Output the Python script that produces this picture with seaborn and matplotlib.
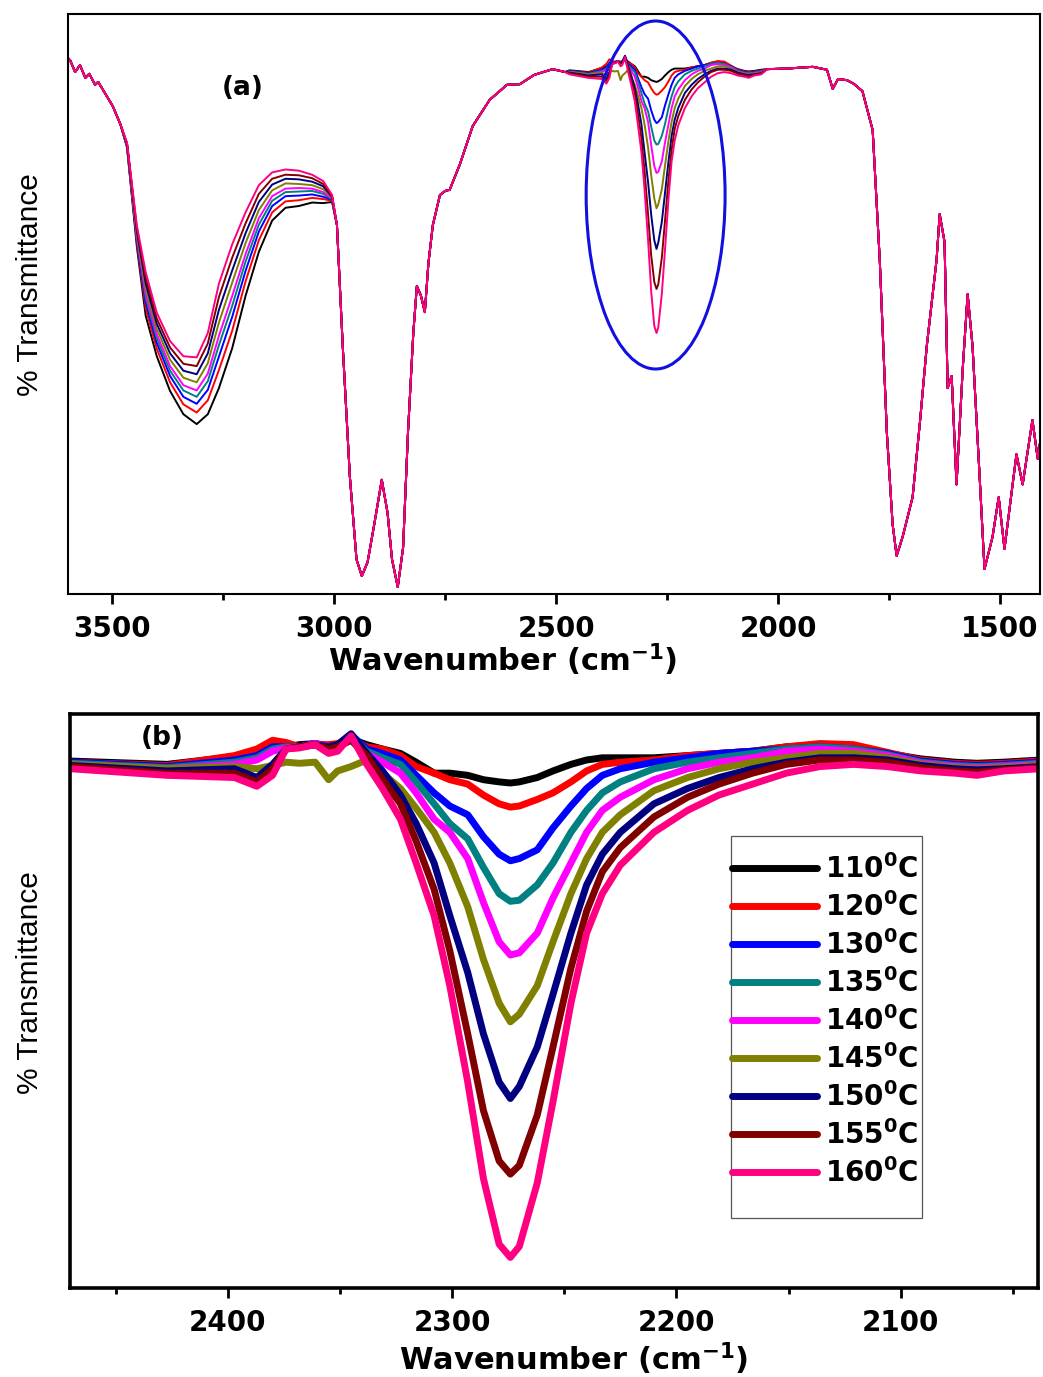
import numpy as np
import pandas as pd
import matplotlib
matplotlib.use("Agg")
import matplotlib.pyplot as plt
import seaborn as sns
from matplotlib.patches import Ellipse, Rectangle
from matplotlib.lines import Line2D
from matplotlib import font_manager

# ---------------- data ----------------
temps = ["110", "120", "130", "135", "140", "145", "150", "155", "160"]
colors = ["#000000", "#ff0000", "#0000ff", "#008080", "#ff00ff",
          "#808000", "#000080", "#800000", "#ff0080"]

# common start (3600-3480 cm-1)
wn_start = [3600, 3595, 3584, 3573, 3561, 3552, 3539, 3532, 3499, 3482]
t_start = [92.4, 92.0, 90.0, 91.2, 89.0, 89.7, 87.8, 88.3, 84.1, 81.0]

# O-H / N-H band, differs per temperature
wn_oh = [3467, 3445, 3425, 3400, 3370, 3340, 3310, 3285, 3260, 3230,
         3200, 3170, 3140, 3110, 3080, 3050, 3025, 3005]
oh_110 = [77.0, 60.0, 48.0, 41.0, 35.0, 31.0, 29.3, 31.0, 35.5, 42.4, 51.4, 59.0, 64.4, 66.6, 66.9, 67.5, 67.4, 67.6]
oh_120 = [77.1, 60.6, 49.3, 42.3, 36.5, 32.7, 31.3, 33.4, 38.6, 45.4, 53.9, 61.0, 65.8, 67.7, 67.9, 68.3, 68.1, 67.8]
oh_130 = [77.2, 61.1, 50.3, 43.3, 37.6, 34.0, 32.8, 35.2, 40.9, 47.8, 55.7, 62.5, 66.9, 68.6, 68.7, 68.9, 68.5, 68.0]
oh_135 = [77.3, 61.5, 51.1, 44.1, 38.5, 35.1, 34.0, 36.7, 42.9, 49.7, 57.3, 63.7, 67.8, 69.3, 69.4, 69.5, 69.0, 68.1]
oh_140 = [77.4, 61.8, 51.8, 44.8, 39.3, 36.0, 35.1, 38.0, 44.5, 51.4, 58.6, 64.8, 68.6, 69.9, 70.0, 69.9, 69.3, 68.2]
oh_145 = [77.5, 62.3, 52.7, 45.7, 40.4, 37.3, 36.5, 39.8, 46.8, 53.7, 60.5, 66.2, 69.6, 70.8, 70.7, 70.5, 69.8, 68.4]
oh_150 = [77.6, 62.7, 53.6, 46.6, 41.5, 38.5, 37.9, 41.5, 49.0, 55.8, 62.2, 67.6, 70.6, 71.6, 71.5, 71.1, 70.3, 68.5]
oh_155 = [77.7, 63.1, 54.5, 47.5, 42.5, 39.7, 39.3, 43.2, 51.2, 58.0, 63.9, 69.0, 71.6, 72.3, 72.2, 71.7, 70.7, 68.6]
oh_160 = [77.8, 63.6, 55.5, 48.5, 43.6, 41.0, 40.8, 45.0, 53.5, 60.3, 65.8, 70.5, 72.7, 73.2, 73.0, 72.3, 71.2, 68.8]

# C-H region (common)
wn_ch = [2994, 2981, 2965, 2950, 2938, 2925, 2910, 2893, 2880, 2870,
         2857, 2845, 2834, 2822, 2814, 2805, 2796, 2788, 2778, 2762,
         2750, 2740, 2717, 2688, 2650, 2611, 2582, 2550, 2508, 2480]
t_ch = [63.6, 42.8, 20.3, 6.0, 3.1, 5.5, 12.0, 19.7, 14.0, 6.0,
        1.2, 8.0, 27.8, 45.0, 53.1, 51.5, 48.6, 57.0, 63.6, 68.8,
        69.5, 69.7, 74.1, 80.7, 85.2, 87.8, 87.9, 89.5, 90.5, 90.0]

# N=C=O band region, differs per temperature
wn_nco = [2470, 2427, 2397, 2387, 2380, 2374, 2368, 2361, 2355, 2351,
          2345, 2338, 2331, 2323, 2316, 2308, 2301, 2293, 2286, 2279,
          2274, 2270, 2262, 2255, 2247, 2240, 2233, 2225, 2210, 2195,
          2181, 2166, 2151, 2136, 2121, 2106, 2091, 2076, 2066, 2054, 2038]
nco_110 = [90.3, 90.0, 90.7, 91.0, 91.4, 91.6, 91.8, 91.9, 91.7, 91.8, 92.3, 91.8, 91.4, 91.0, 90.2, 89.2, 89.2, 89.0, 88.6, 88.4, 88.3, 88.4, 88.8, 89.4, 90.0, 90.4, 90.6, 90.6, 90.6, 90.8, 91.0, 91.2, 91.6, 91.8, 91.6, 91.0, 90.5, 90.2, 90.1, 90.2, 90.4]
nco_120 = [90.2, 89.9, 90.8, 91.4, 92.2, 92.0, 91.6, 91.8, 91.8, 91.9, 92.3, 91.6, 91.4, 90.8, 89.8, 89.2, 88.6, 88.2, 87.2, 86.4, 86.1, 86.2, 86.8, 87.4, 88.4, 89.4, 90.0, 90.2, 90.4, 90.8, 91.0, 91.2, 91.6, 91.9, 91.8, 91.1, 90.4, 90.1, 90.0, 90.1, 90.3]
nco_130 = [90.2, 89.8, 90.4, 90.8, 91.6, 91.6, 91.6, 91.9, 91.6, 91.8, 92.7, 91.4, 91.0, 90.4, 89.0, 87.4, 86.2, 85.4, 83.4, 81.8, 81.2, 81.4, 82.2, 84.2, 86.2, 87.8, 89.0, 89.6, 90.2, 90.6, 91.0, 91.2, 91.4, 91.6, 91.4, 91.0, 90.3, 90.0, 89.9, 90.0, 90.2]
nco_135 = [90.1, 89.7, 90.2, 90.6, 91.4, 91.6, 91.6, 91.8, 91.6, 91.8, 92.6, 91.2, 90.6, 90.0, 88.4, 86.4, 84.6, 83.2, 80.6, 78.2, 77.5, 77.6, 79.0, 81.0, 83.8, 85.8, 87.4, 88.4, 89.6, 90.2, 90.6, 91.0, 91.4, 91.6, 91.4, 90.9, 90.2, 89.9, 89.8, 89.9, 90.1]
nco_140 = [90.0, 89.6, 90.0, 90.4, 91.2, 91.5, 91.6, 91.9, 91.6, 91.7, 92.4, 91.0, 90.2, 89.2, 87.4, 85.0, 83.8, 81.4, 77.4, 73.8, 72.6, 72.8, 74.6, 77.8, 81.0, 83.8, 85.8, 87.0, 88.6, 89.6, 90.2, 90.6, 91.2, 91.4, 91.2, 90.8, 90.1, 89.8, 89.7, 89.8, 90.0]
nco_145 = [90.0, 89.6, 89.8, 89.6, 89.9, 90.2, 90.1, 90.2, 88.6, 89.4, 89.8, 90.4, 89.2, 87.8, 86.0, 83.8, 81.0, 77.0, 72.2, 68.2, 66.5, 67.2, 69.8, 73.8, 78.2, 81.4, 83.8, 85.4, 87.6, 88.8, 89.6, 90.2, 90.6, 91.0, 91.0, 90.6, 90.0, 89.7, 89.6, 89.7, 89.9]
nco_150 = [89.9, 89.4, 89.6, 88.8, 90.0, 91.4, 91.6, 91.8, 91.6, 91.8, 92.8, 91.0, 89.4, 87.2, 84.6, 81.0, 76.2, 71.0, 65.4, 61.0, 59.5, 60.6, 64.2, 69.0, 74.6, 79.0, 81.8, 83.8, 86.4, 87.8, 88.8, 89.6, 90.2, 90.6, 90.6, 90.4, 89.9, 89.6, 89.5, 89.6, 89.8]
nco_155 = [89.8, 89.2, 89.2, 88.4, 89.6, 91.4, 91.6, 91.8, 91.4, 91.6, 92.2, 90.8, 88.6, 86.4, 83.0, 78.6, 73.0, 65.4, 58.4, 53.8, 52.6, 53.4, 58.0, 64.2, 71.4, 76.6, 80.2, 82.4, 85.2, 87.0, 88.2, 89.2, 90.0, 90.4, 90.4, 90.2, 89.7, 89.4, 89.3, 89.5, 89.7]
nco_160 = [89.6, 89.0, 88.8, 88.0, 89.0, 91.4, 91.5, 91.8, 91.0, 91.2, 92.6, 90.0, 87.8, 85.0, 81.0, 76.2, 69.8, 61.0, 52.2, 46.2, 45.0, 46.0, 51.8, 59.2, 68.2, 74.6, 78.2, 80.8, 83.8, 85.8, 87.2, 88.2, 89.2, 89.8, 90.0, 89.8, 89.4, 89.2, 89.0, 89.4, 89.6]

# fingerprint region (common)
wn_fp = [2025, 1980, 1922, 1890, 1877, 1865, 1845, 1830, 1810, 1787,
         1771, 1755, 1742, 1733, 1725, 1719, 1697, 1680, 1665, 1650,
         1643, 1636, 1625, 1618, 1609, 1598, 1584, 1573, 1562, 1546,
         1535, 1517, 1503, 1490, 1463, 1449, 1427, 1415, 1410]
t_fp = [90.5, 90.6, 90.9, 90.4, 87.1, 88.8, 88.6, 88.0, 86.7, 80.0,
        57.6, 27.8, 12.0, 6.6, 8.5, 10.0, 16.7, 30.0, 42.8, 53.0,
        57.6, 65.5, 60.7, 35.5, 37.6, 18.9, 38.9, 51.7, 42.8, 20.3,
        4.3, 9.8, 16.7, 7.8, 24.1, 18.9, 30.0, 23.3, 26.0]

oh_sets = [oh_110, oh_120, oh_130, oh_135, oh_140, oh_145, oh_150, oh_155, oh_160]
nco_sets = [nco_110, nco_120, nco_130, nco_135, nco_140, nco_145, nco_150, nco_155, nco_160]

frames = []
for t, oh, nco in zip(temps, oh_sets, nco_sets):
    wn = wn_start + wn_oh + wn_ch + wn_nco + wn_fp
    tr = t_start + oh + t_ch + nco + t_fp
    frames.append(pd.DataFrame({"wn": wn, "T": tr, "temp": t}))
df = pd.concat(frames, ignore_index=True)

# ---------------- figure ----------------
plt.rcParams["font.family"] = ["DejaVu Sans"]
plt.rcParams["mathtext.fontset"] = "dejavusans"

fig = plt.figure(figsize=(10.43, 13.77), dpi=100)
ax1 = fig.add_axes([0.0652, 0.5686, 0.9319, 0.4212])
ax2 = fig.add_axes([0.0671, 0.0646, 0.9281, 0.4169])

sns.lineplot(data=df, x="wn", y="T", hue="temp", hue_order=temps,
             palette=colors, estimator=None, sort=False, linewidth=1.4,
             legend=False, ax=ax1, solid_joinstyle="round")
sns.lineplot(data=df, x="wn", y="T", hue="temp", hue_order=temps,
             palette=colors, estimator=None, sort=False, linewidth=5.0,
             legend=False, ax=ax2, solid_joinstyle="round",
             solid_capstyle="round")

names = {f.name for f in font_manager.fontManager.ttflist}
if "Liberation Sans Narrow" in names:
    yfam, ysize = "Liberation Sans Narrow", 26
else:
    yfam, ysize = "Liberation Sans", 21.5

def style(ax, spw, major, minor):
    ax.set_yticks([])
    ax.set_xticks(major)
    ax.set_xticks(minor, minor=True)
    ax.set_xticklabels([str(m) for m in major])
    for s in ax.spines.values():
        s.set_linewidth(spw)
        s.set_color("black")
    ax.tick_params(axis="x", which="major", length=7, width=2, direction="out",
                   pad=8, labelsize=20)
    ax.tick_params(axis="x", which="minor", length=4.5, width=2, direction="out")
    for lbl in ax.get_xticklabels():
        lbl.set_fontweight("bold")
    ax.set_facecolor("white")

ax1.set_xlim(3600, 1410)
ax1.set_ylim(0, 100)
style(ax1, 1.5, [3500, 3000, 2500, 2000, 1500], [3250, 2750, 2250, 1750])

ax2.set_xlim(2470.3, 2038.8)
ax2.set_ylim(42.2, 94.6)
style(ax2, 2.6, [2400, 2300, 2200, 2100], [2450, 2350, 2250, 2150, 2050])

for ax, xc, yb, yc, xl in [(ax1, 0.4475, -0.133, 0.534, -0.039),
                           (ax2, 0.5207, -0.143, 0.533, -0.041)]:
    ax.set_xlabel(r"Wavenumber (cm$^{\mathbf{-1}}$)", fontsize=22, fontweight="bold")
    ax.xaxis.set_label_coords(xc, yb)
    ax.xaxis.label.set_va("baseline")
    ax.set_ylabel("% Transmittance", fontsize=ysize, family=yfam, va="center")
    ax.yaxis.set_label_coords(xl, yc)

# panel (a) annotations
ax1.text(3206, 87.2, "(a)", ha="center", va="center", fontsize=19, fontweight="bold")
ax1.add_patch(Ellipse((2276, 68.8), width=313, height=60, fill=False,
                      edgecolor="#1010e0", linewidth=2.2, zorder=5))

# panel (b) annotations
ax2.text(2429, 92.4, "(b)", ha="center", va="center", fontsize=19, fontweight="bold")
ax2.add_patch(Rectangle((0.683, 0.122), 0.197, 0.665, transform=ax2.transAxes,
                        fill=False, edgecolor="#555555", linewidth=0.9, zorder=4))
handles = [Line2D([], [], color=c, lw=5, solid_capstyle="round") for c in colors]
labels = [t + r"$^{\mathbf{0}}$C" for t in temps]
ax2.legend(handles, labels, loc="upper left", bbox_to_anchor=(0.684, 0.756),
           frameon=False, handlelength=3.05, handletextpad=0.3,
           labelspacing=0.29, borderpad=0, borderaxespad=0,
           prop={"weight": "bold", "size": 20})

fig.savefig("out.png", dpi=100, facecolor="white")
